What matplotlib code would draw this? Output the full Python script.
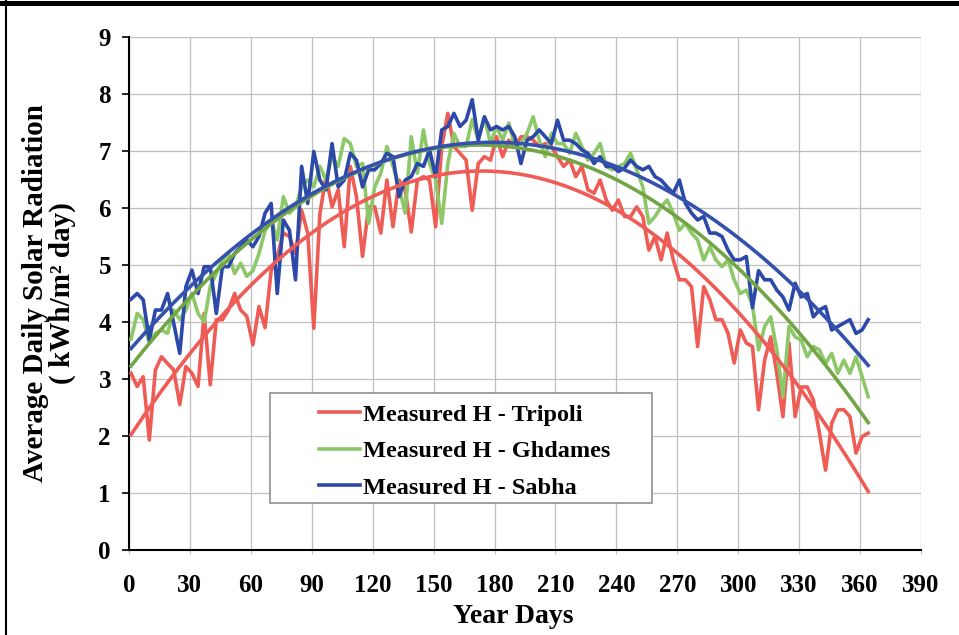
import numpy as np
import matplotlib
matplotlib.use("Agg")
import matplotlib.pyplot as plt
from matplotlib.lines import Line2D
from matplotlib.patches import Rectangle

plt.rcParams['font.family'] = ['Liberation Serif', 'DejaVu Serif']
plt.rcParams['font.weight'] = 'bold'

days = np.arange(1, 366, 3)

tripoli = [3.10, 2.87, 3.04, 1.93, 3.16, 3.39, 3.27, 3.16, 2.55, 3.22,
           3.10, 2.87, 4.15, 2.90, 4.04, 4.04, 4.21, 4.50, 4.21, 4.10,
           3.60, 4.27, 3.90, 4.90, 5.15, 5.56, 5.50, 5.20, 5.96, 5.56,
           3.89, 5.90, 6.55, 6.02, 6.32, 5.32, 6.73, 6.20, 5.15, 6.02,
           6.02, 5.56, 6.49, 5.67, 6.49, 6.32, 5.58, 6.49, 6.55, 6.49,
           5.67, 7.08, 7.66, 7.08, 6.96, 6.84, 5.96, 6.78, 6.90, 6.84,
           7.25, 6.90, 7.19, 7.08, 7.25, 7.25, 7.19, 7.08, 7.13, 7.08,
           6.90, 6.73, 6.84, 6.55, 6.73, 6.32, 6.26, 6.49, 6.14, 5.96,
           6.14, 5.85, 5.85, 6.02, 5.85, 5.26, 5.50, 5.09, 5.56, 5.09,
           4.74, 4.74, 4.62, 3.57, 4.62, 4.39, 4.04, 4.04, 3.80, 3.28,
           3.86, 3.63, 3.57, 2.46, 3.33, 3.74, 3.10, 2.34, 3.63, 2.34,
           2.86, 2.86, 2.63, 2.05, 1.40, 2.22, 2.46, 2.46, 2.34, 1.70,
           1.99, 2.05]

ghdames = [3.70, 4.15, 4.04, 3.63, 3.80, 3.86, 3.80, 4.21, 4.04, 4.21,
           4.50, 4.15, 4.00, 4.62, 4.85, 5.09, 5.20, 4.85, 5.03, 4.80,
           4.90, 5.20, 5.60, 5.79, 5.44, 6.20, 5.91, 6.02, 6.37, 6.49,
           6.37, 6.73, 6.49, 6.90, 6.73, 7.22, 7.13, 6.73, 6.78, 5.73,
           6.37, 6.61, 7.08, 6.73, 6.37, 5.91, 7.25, 6.61, 7.37, 6.78,
           6.49, 5.73, 6.78, 7.31, 7.08, 7.08, 7.55, 7.19, 7.60, 7.13,
           7.43, 7.19, 7.49, 7.08, 7.13, 7.31, 7.60, 7.19, 6.90, 7.31,
           7.13, 7.13, 6.96, 7.31, 7.08, 6.84, 6.96, 7.13, 6.73, 6.67,
           6.73, 6.78, 6.96, 6.67, 6.37, 5.73, 5.85, 6.02, 6.14, 5.91,
           5.61, 5.73, 5.56, 5.44, 5.09, 5.32, 5.09, 4.97, 5.09, 4.74,
           4.50, 4.56, 4.30, 3.51, 3.92, 4.09, 3.51, 2.69, 3.92, 3.74,
           3.68, 3.39, 3.57, 3.51, 3.27, 3.45, 3.10, 3.33, 3.10, 3.39,
           3.04, 2.69]

sabha = [4.40, 4.50, 4.39, 3.68, 4.21, 4.21, 4.50, 3.98, 3.45, 4.62,
         4.91, 4.50, 4.97, 4.97, 4.15, 4.97, 4.97, 5.20, 5.32, 5.44,
         5.32, 5.50, 5.91, 6.08, 4.50, 5.79, 5.61, 4.74, 6.73, 6.08,
         6.99, 6.49, 6.32, 7.13, 6.37, 6.49, 6.96, 6.84, 6.37, 6.67,
         6.67, 6.78, 6.96, 6.90, 6.20, 6.49, 6.55, 6.78, 6.73, 7.02,
         6.55, 7.37, 7.43, 7.66, 7.43, 7.54, 7.90, 7.19, 7.60, 7.37,
         7.43, 7.37, 7.43, 7.25, 6.78, 7.19, 7.25, 7.37, 7.25, 7.13,
         7.54, 7.19, 7.19, 7.13, 7.02, 6.96, 6.78, 6.90, 6.73, 6.73,
         6.64, 6.70, 6.84, 6.73, 6.67, 6.73, 6.55, 6.49, 6.37, 6.26,
         6.49, 6.08, 5.91, 5.79, 5.85, 5.56, 5.56, 5.50, 5.26, 5.09,
         5.09, 5.15, 4.25, 4.90, 4.74, 4.74, 4.56, 4.44, 4.21, 4.68,
         4.44, 4.50, 4.09, 4.21, 4.27, 3.86, 3.92, 3.98, 4.04, 3.80,
         3.86, 4.04]

labels = ["Measured H - Tripoli", "Measured H - Ghdames", "Measured H - Sabha"]
data_colors = ["#EE5C55", "#8CC868", "#2C48A8"]
trend_colors = ["#EE5C55", "#72A544", "#3452AD"]
series = [tripoli, ghdames, sabha]

fig = plt.figure(figsize=(9.59, 6.35), dpi=100)
ax = fig.add_axes([129/959, 1-550/635, (921-129)/959, (550-37)/635])

handles = []
for vals, c in zip(series, data_colors):
    h, = ax.plot(days, vals, color=c, lw=2.6, zorder=3, solid_joinstyle='round')
    handles.append(h)
for vals, c in zip(series, trend_colors):
    coef = np.polyfit(days, vals, 2)
    ax.plot(days, np.polyval(coef, days), color=c, lw=2.6, zorder=4)

ax.set_xlim(0, 390)
ax.set_ylim(0, 9)
ax.set_xticks(np.arange(0, 391, 30))
ax.set_yticks(np.arange(0, 10, 1))
ax.grid(True, color="#BFBFBF", lw=0.9, zorder=0)
ax.set_axisbelow(True)
for s in ['top', 'right']:
    ax.spines[s].set_visible(False)
ax.spines['left'].set_linewidth(1.5)
ax.spines['bottom'].set_linewidth(1.5)
ax.tick_params(axis='y', direction='out', length=5, width=1.2, pad=8, labelsize=18)
ax.tick_params(axis='x', direction='out', length=3, width=0.8, color='#BFBFBF', pad=14, labelsize=18)
for t in ax.get_xticklabels() + ax.get_yticklabels():
    t.set_fontweight('bold')

ax.set_xlabel("Year Days", fontsize=20, fontweight='bold', labelpad=0)
ax.xaxis.set_label_coords((513 - 129) / 792, -(604 - 550) / 513)
ax.set_ylabel("Average Daily Solar Radiation\n( kWh/m\u00b2 day)", fontsize=21,
              fontweight='bold', linespacing=1.0)
ax.yaxis.set_label_coords(-(129 - 76) / 792, 0.5)

# legend box
def ax_coords(px, py):
    return ((px - 129) / 792, (550 - py) / 513)
x0, y0 = ax_coords(270, 503)
x1, y1 = ax_coords(652, 393)
ax.add_patch(Rectangle((x0, y0), x1 - x0, y1 - y0, transform=ax.transAxes,
                       facecolor='white', edgecolor='#999999', lw=1.3, zorder=5))
lx, ly = ax_coords(309, 394)
leg = ax.legend(handles, labels, loc='upper left', bbox_to_anchor=(lx, ly),
                frameon=False, handlelength=1.7, handletextpad=0.12,
                labelspacing=0.6, borderaxespad=0, prop={'weight': 'bold', 'size': 17.5})
leg.set_zorder(6)

# outer frame
fig.add_artist(Line2D([0, 1], [1 - 2.5/635, 1 - 2.5/635], transform=fig.transFigure,
                      color='black', lw=3.6))
fig.add_artist(Line2D([6/959, 6/959], [0, 1], transform=fig.transFigure,
                      color='black', lw=1.5))

fig.savefig("out.png", dpi=100)
